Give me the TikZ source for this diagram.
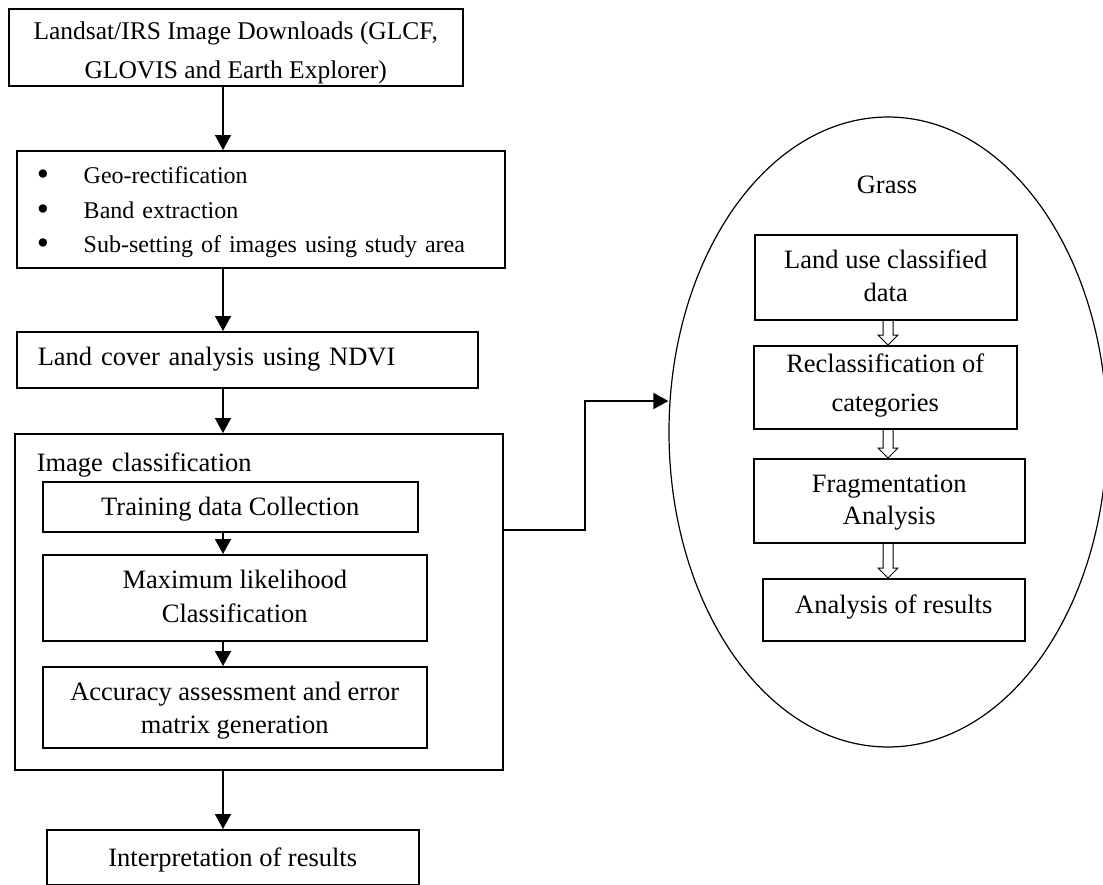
\documentclass[tikz,border=0pt]{standalone}
\usepackage{fontspec}
\setmainfont{Liberation Serif}
\usetikzlibrary{arrows.meta,calc,shapes.geometric}
\newcommand\fsz{\fontsize{26.5}{37}\selectfont}
\newcommand\mybul{\makebox[47pt][l]{\raisebox{-0.09em}{\scalebox{1.45}{•}}}}
\tikzset{
  box/.style={draw, line width=1.5pt, inner sep=0pt, anchor=north west, font=\fsz, align=center},
  arr/.style={line width=1.6pt, -{Triangle[width=16pt,length=15pt]}},
  holw/.style={line width=1pt},
}
\newcommand\holarrow[2]{\draw[holw] let \p1=(hx |- #1.south), \p2=(hx |- #2.north) in
  (\x1-5pt,\y1) -- (\x1-5pt,\y2+10pt) -- (\x1-10pt,\y2+10pt) -- (\x1,\y2) -- (\x1+10pt,\y2+10pt) -- (\x1+5pt,\y2+10pt) -- (\x1+5pt,\y1);}
\begin{document}
\begin{tikzpicture}[x=1pt,y=-1pt]
\useasboundingbox (0,0) rectangle (1103,884);
% left column
\node[box, minimum width=454pt, text height=70pt, text depth=7pt, font=\fontsize{25.5}{39}\selectfont] (top) at (8,8)
  {Landsat/IRS Image Downloads (GLCF,\\GLOVIS and Earth Explorer)};
\node[box, align=left, inner xsep=20pt, text width=448pt, text height=33pt, text depth=84pt, font=\fontsize{24}{34.5}\selectfont] (bul) at (16,150)
  {\mybul Geo-rectification\\\mybul Band extraction\\\mybul Sub-setting of images using study area};
\node[box, align=left, inner xsep=21pt, text width=419pt, text height=34pt, text depth=22pt] (ndvi) at (16,331)
  {Land cover analysis using NDVI};
\node[box, align=left, inner xsep=22pt, text width=444pt, text height=38pt, text depth=298pt] (ic) at (14,433)
  {Image classification};
\node[box, minimum width=375pt, text height=34pt, text depth=16pt] (train) at (42,481)
  {Training data Collection};
\node[box, minimum width=384pt, text height=68pt, text depth=18pt, font=\fontsize{26.5}{34}\selectfont] (ml) at (42,554)
  {Maximum likelihood\\Classification};
\node[box, minimum width=384pt, text height=67pt, text depth=14pt, font=\fontsize{26.5}{33}\selectfont] (acc) at (42,666)
  {Accuracy assessment and error\\matrix generation};
\node[box, minimum width=372pt, text height=37pt, text depth=18pt] (interp) at (46,829)
  {Interpretation of results};
\coordinate (ax) at (223,0);
\draw[arr] (ax |- top.south) -- (ax |- bul.north);
\draw[arr] (ax |- bul.south) -- (ax |- ndvi.north);
\draw[arr] (ax |- ndvi.south) -- (ax |- ic.north);
\draw[arr] (ax |- train.south) -- (ax |- ml.north);
\draw[arr] (ax |- ml.south) -- (ax |- acc.north);
\draw[arr] (ax |- ic.south) -- (ax |- interp.north);
% ellipse
\node[draw, ellipse, line width=1.2pt, minimum width=438pt, minimum height=630pt, inner sep=0pt] (grass) at (888,432) {};
\node[anchor=base, font=\fsz, inner sep=0pt] (grasslbl) at (887,193) {Grass};
\node[box, minimum width=262pt, text height=67pt, text depth=18pt, font=\fontsize{26.5}{33}\selectfont] (lu) at (754,234)
  {Land use classified\\data};
\node[box, minimum width=263pt, text height=66pt, text depth=17pt, font=\fontsize{26.5}{39}\selectfont] (rc) at (753,345)
  {Reclassification of\\categories};
\node[box, minimum width=271pt, text height=66pt, text depth=18pt, font=\fontsize{26.5}{32}\selectfont] (fr) at (753,458)
  {Fragmentation\\Analysis};
\node[box, minimum width=262pt, text height=35pt, text depth=27pt] (ar) at (762,578)
  {Analysis of results};
\coordinate (hx) at (888,0);
\holarrow{lu}{rc}
\holarrow{rc}{fr}
\holarrow{fr}{ar}
% connector to ellipse
\coordinate (bend1) at (585,530);
\coordinate (bend2) at (585,401);
\draw[arr] (ic.east |- bend1) -- (bend1) -- (bend2) -- (grass.west |- bend2);
\end{tikzpicture}
\end{document}
